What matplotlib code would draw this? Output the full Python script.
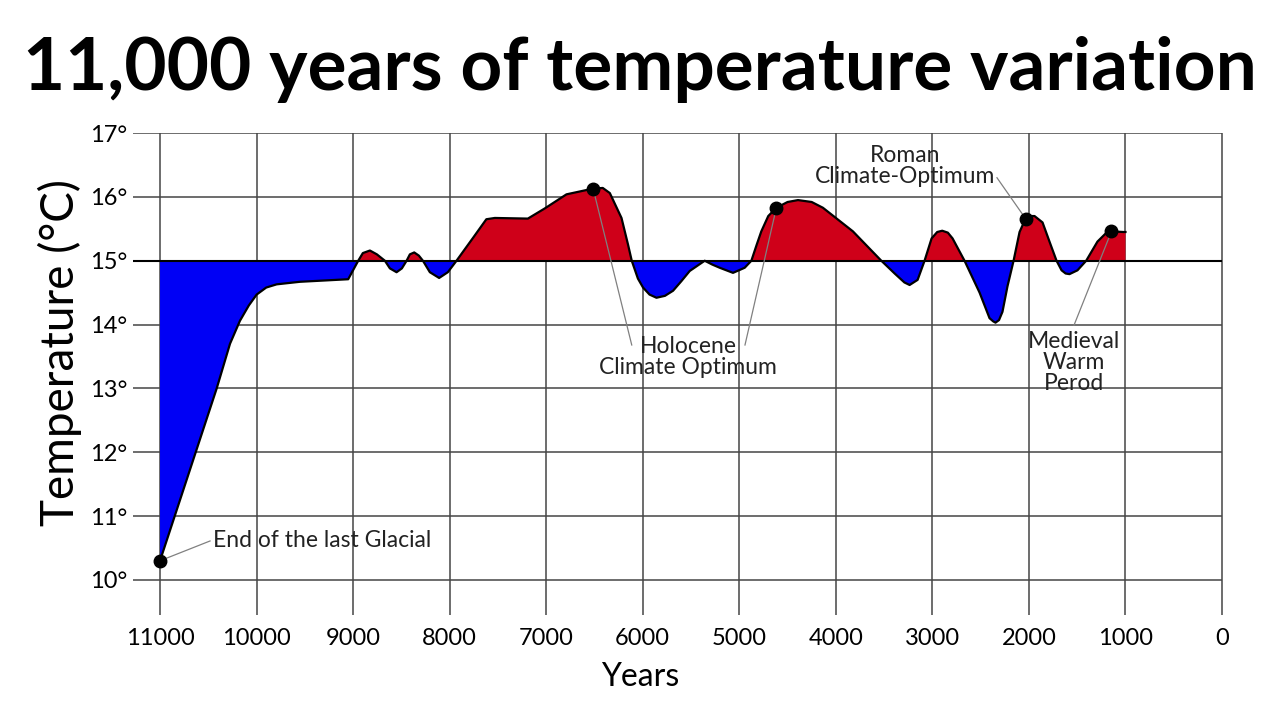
import matplotlib.pyplot as plt
import numpy as np

plt.rcParams['font.family'] = ['Lato', 'DejaVu Sans']

# temperature curve (years before present, degrees C)
years = [11000, 10413, 10275, 10172, 10080, 9999, 9900, 9792, 9551, 9051,
         8947, 8899, 8826, 8754, 8671, 8619, 8550, 8495, 8446, 8412,
         8367, 8319, 8277, 8205, 8109, 8019, 7929, 7757, 7620, 7532,
         7190, 7014, 6790, 6514, 6414, 6341, 6220, 6152, 6114, 6050,
         5997, 5930, 5858, 5770, 5686, 5600, 5513, 5358, 5280, 5203,
         5065, 4944, 4875, 4820, 4772, 4700, 4616, 4500, 4392, 4250,
         4134, 3823, 3529, 3391, 3290, 3236, 3153, 3081, 3008, 2950,
         2898, 2840, 2791, 2667, 2511, 2408, 2370, 2346, 2310, 2274,
         2222, 2159, 2097, 2035, 1990, 1942, 1859, 1787, 1714, 1662,
         1620, 1580, 1497, 1407, 1290, 1210, 1145, 1021, 1000]
temps = [10.3, 13.0, 13.7, 14.06, 14.3, 14.47, 14.58, 14.63, 14.67, 14.71,
         15.0, 15.12, 15.16, 15.1, 15.0, 14.88, 14.82, 14.88, 15.0, 15.1,
         15.13, 15.08, 15.0, 14.82, 14.73, 14.82, 15.0, 15.36, 15.65, 15.67,
         15.66, 15.82, 16.04, 16.13, 16.14, 16.06, 15.67, 15.25, 15.0, 14.72,
         14.58, 14.47, 14.42, 14.45, 14.53, 14.68, 14.84, 15.0, 14.94, 14.89,
         14.81, 14.89, 15.0, 15.25, 15.46, 15.7, 15.83, 15.92, 15.95, 15.92,
         15.83, 15.46, 15.0, 14.8, 14.66, 14.62, 14.7, 15.0, 15.35, 15.45,
         15.47, 15.44, 15.35, 15.0, 14.5, 14.1, 14.05, 14.03, 14.07, 14.2,
         14.6, 15.0, 15.45, 15.66, 15.7, 15.7, 15.6, 15.3, 15.0, 14.85,
         14.8, 14.79, 14.85, 15.0, 15.3, 15.42, 15.46, 15.45, 15.45]
baseline = 15

# marked events on the curve
event_years = [11000, 6514, 4616, 2035, 1145]
event_temps = [10.3, 16.13, 15.83, 15.66, 15.46]

x_ticks = list(range(11000, -1, -1000))
y_ticks = list(range(10, 18))

years = np.array(years)
temps = np.array(temps)

fig = plt.figure(figsize=(12.8, 7.2), dpi=100)
ax = fig.add_axes([0.1039, 0.1458, 0.8508, 0.6694])
ax.set_xlim(11280, 0)
ax.set_ylim(9.45, 17)
for s in ax.spines.values():
    s.set_visible(False)

grid_c = '#454545'
ax.hlines(y_ticks, 11280, 0, color=grid_c, lw=1.1, zorder=1)
ax.vlines(x_ticks, 9.45, 17, color=grid_c, lw=1.1, zorder=1, clip_on=False)

ax.fill_between(years, temps, baseline, where=temps >= baseline,
                interpolate=True, color='#cf0019', lw=0, zorder=2)
ax.fill_between(years, temps, baseline, where=temps <= baseline,
                interpolate=True, color='#0000f5', lw=0, zorder=2)
ax.plot(years, temps, color='black', lw=1.6, zorder=3)
ax.hlines(baseline, 11280, 0, color='black', lw=1.5, zorder=3)

# connector lines and labels
lc = '#808080'
txt = dict(fontsize=16.5, color='#222222', linespacing=1.0)
ax.plot([11000, 10482], [10.3, 10.61], color=lc, lw=0.9, zorder=3)
ax.text(10450, 10.61, 'End of the last Glacial', va='center', ha='left', **txt)

ax.plot([6514, 6114], [16.13, 13.68], color=lc, lw=0.9, zorder=3)
ax.plot([4616, 4941], [15.83, 13.68], color=lc, lw=0.9, zorder=3)
ax.text(5530, 13.49, 'Holocene\nClimate Optimum', ha='center', va='center',
        **txt)

ax.plot([2035, 2331], [15.66, 16.3], color=lc, lw=0.9, zorder=3)
ax.text(3284, 16.48, 'Roman\nClimate-Optimum', ha='center', va='center', **txt)

ax.plot([1145, 1533], [15.46, 13.99], color=lc, lw=0.9, zorder=3)
ax.text(1533, 13.41, 'Medieval\nWarm\nPerod', ha='center', va='center', **txt)

ax.plot(event_years, event_temps, 'o', color='black', ms=9, zorder=4,
        clip_on=False)

ax.set_xticks(x_ticks)
ax.set_xticklabels([str(v) for v in x_ticks])
ax.set_yticks(y_ticks)
ax.set_yticklabels([f'{v}°' for v in y_ticks])
ax.tick_params(length=0, labelsize=17)
ax.tick_params(axis='x', pad=9)
ax.tick_params(axis='y', pad=4)

fig.text(0.5, 1 - 677 / 720, 'Years', fontsize=23, ha='center', va='center')
fig.text(0.047, 1 - 352 / 720, 'Temperature (°C)', rotation=90, fontsize=33,
         ha='center', va='center')

fig.text(0.5, 0.904, '11,000 years of temperature variation', fontsize=52.5,
         fontweight='bold', ha='center', va='center')

fig.savefig('out.png', dpi=100, facecolor='white')
